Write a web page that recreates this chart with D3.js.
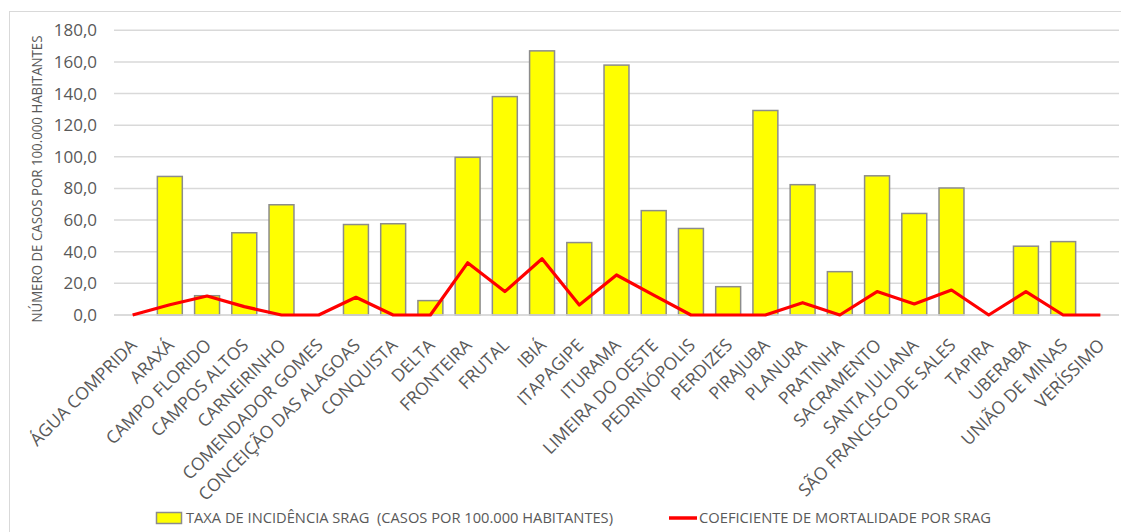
<!DOCTYPE html>
<html>
<head>
<meta charset="utf-8">
<script src="https://cdn.jsdelivr.net/npm/d3@7"></script>
<style>
  body { margin: 0; background: #fff; }
  svg { display: block; font-family: "Open Sans", sans-serif; }
</style>
</head>
<body>
<svg id="grafico" width="1121" height="532"></svg>
<script>
// Municípios (eixo x)
const municipios = [
    "ÁGUA COMPRIDA", "ARAXÁ", "CAMPO FLORIDO", "CAMPOS ALTOS", "CARNEIRINHO",
    "COMENDADOR GOMES", "CONCEIÇÃO DAS ALAGOAS", "CONQUISTA", "DELTA", "FRONTEIRA",
    "FRUTAL", "IBIÁ", "ITAPAGIPE", "ITURAMA", "LIMEIRA DO OESTE", "PEDRINÓPOLIS",
    "PERDIZES", "PIRAJUBA", "PLANURA", "PRATINHA", "SACRAMENTO", "SANTA JULIANA",
    "SÃO FRANCISCO DE SALES", "TAPIRA", "UBERABA", "UNIÃO DE MINAS", "VERÍSSIMO"
];

// Taxa de incidência SRAG (casos por 100.000 habitantes)
const incidencia = [
    0, 87.6, 12.2, 52.0, 69.7, 0, 57.2, 57.7, 9.1, 99.7,
    138.1, 167.0, 45.8, 158.0, 66.0, 54.7, 17.9, 129.3, 82.4, 27.4,
    88.0, 64.2, 80.3, 0, 43.5, 46.4, 0
];

// Coeficiente de mortalidade por SRAG
const mortalidade = [
    0, 6.5, 12.0, 5.3, 0, 0, 11.2, 0, 0, 33.0,
    14.8, 35.6, 6.3, 25.3, 12.6, 0, 0, 0, 7.8, 0,
    14.8, 7.0, 15.8, 0, 14.8, 0, 0
];

const ticksY = [0, 20, 40, 60, 80, 100, 120, 140, 160, 180];

const legenda = [
    "TAXA DE INCIDÊNCIA SRAG  (CASOS POR 100.000 HABITANTES)",
    "COEFICIENTE DE MORTALIDADE POR SRAG"
];

let svg = d3.select("#grafico");

// Borda do gráfico
svg.append("rect")
    .attr("x", 9.5).attr("y", 11.5)
    .attr("width", 1130).attr("height", 540)
    .attr("fill", "none")
    .attr("stroke", "#d9d9d9");

// Escalas
let x = d3.scaleBand()
    .domain(municipios)
    .range([114, 1119])
    .paddingInner(0.33)
    .paddingOuter(0.165);

let y = d3.scaleLinear()
    .domain([0, 180])
    .range([315, 30.3]);

let formato = d => d3.format(".1f")(d).replace(".", ",");

// Linhas de grade
svg.append("g")
    .selectAll("line")
    .data(ticksY)
    .enter()
    .append("line")
    .attr("x1", 114).attr("x2", 1119)
    .attr("y1", d => y(d)).attr("y2", d => y(d))
    .attr("stroke", "#d9d9d9")
    .attr("stroke-width", 1.5);

// Eixo y
let eixoY = svg.append("g")
    .attr("transform", "translate(114,0)")
    .call(d3.axisLeft(y).tickValues(ticksY).tickFormat(formato).tickSize(0).tickPadding(17));
eixoY.select(".domain").remove();
eixoY.selectAll("text")
    .attr("fill", "#595959")
    .attr("font-size", "17px")
    .attr("font-family", "Open Sans, sans-serif");

// Título do eixo y
svg.append("text")
    .attr("transform", "translate(42,179) rotate(-90)")
    .attr("text-anchor", "middle")
    .attr("fill", "#595959")
    .attr("font-size", "13.6px")
    .attr("textLength", 287)
    .attr("lengthAdjust", "spacingAndGlyphs")
    .text("NÚMERO DE CASOS POR 100.000 HABITANTES");

// Barras (só municípios com valor)
svg.append("g")
    .selectAll("rect")
    .data(municipios.map((m, i) => ({ m: m, v: incidencia[i] })).filter(d => d.v > 0))
    .enter()
    .append("rect")
    .attr("x", d => x(d.m))
    .attr("y", d => y(d.v))
    .attr("width", x.bandwidth())
    .attr("height", d => y(0) - y(d.v))
    .attr("fill", "#ffff00")
    .attr("stroke", "#8c8c8c")
    .attr("stroke-width", 1.5);

// Linha do eixo x
svg.append("line")
    .attr("x1", 114).attr("x2", 1119)
    .attr("y1", y(0)).attr("y2", y(0))
    .attr("stroke", "#d9d9d9")
    .attr("stroke-width", 1.5);

// Linha de mortalidade
let linha = d3.line()
    .x((d, i) => x(municipios[i]) + x.bandwidth() / 2)
    .y(d => y(d));

svg.append("path")
    .datum(mortalidade)
    .attr("d", linha)
    .attr("fill", "none")
    .attr("stroke", "#ff0000")
    .attr("stroke-width", 3.2)
    .attr("stroke-linejoin", "round");

// Rótulos do eixo x
svg.append("g")
    .selectAll("text")
    .data(municipios)
    .enter()
    .append("text")
    .attr("transform", d => "translate(" + (x(d) + x.bandwidth() / 2 + 1) + ",342) rotate(-45)")
    .attr("text-anchor", "end")
    .attr("dy", "0.35em")
    .attr("fill", "#595959")
    .attr("font-size", "17.5px")
    .text(d => d);

// Legenda
let leg = svg.append("g");
leg.append("rect")
    .attr("x", 156.5).attr("y", 512.5)
    .attr("width", 25).attr("height", 11)
    .attr("fill", "#ffff00")
    .attr("stroke", "#8c8c8c")
    .attr("stroke-width", 1.5);
leg.append("text")
    .attr("x", 186).attr("y", 518)
    .attr("dy", "0.35em")
    .attr("fill", "#595959")
    .attr("font-size", "14px")
    .attr("textLength", 427)
    .attr("lengthAdjust", "spacingAndGlyphs")
    .style("white-space", "pre")
    .text(legenda[0]);
leg.append("line")
    .attr("x1", 669).attr("x2", 697)
    .attr("y1", 518).attr("y2", 518)
    .attr("stroke", "#ff0000")
    .attr("stroke-width", 3.5);
leg.append("text")
    .attr("x", 699).attr("y", 518)
    .attr("dy", "0.35em")
    .attr("fill", "#595959")
    .attr("font-size", "14px")
    .attr("textLength", 292)
    .attr("lengthAdjust", "spacingAndGlyphs")
    .text(legenda[1]);
</script>
</body>
</html>
